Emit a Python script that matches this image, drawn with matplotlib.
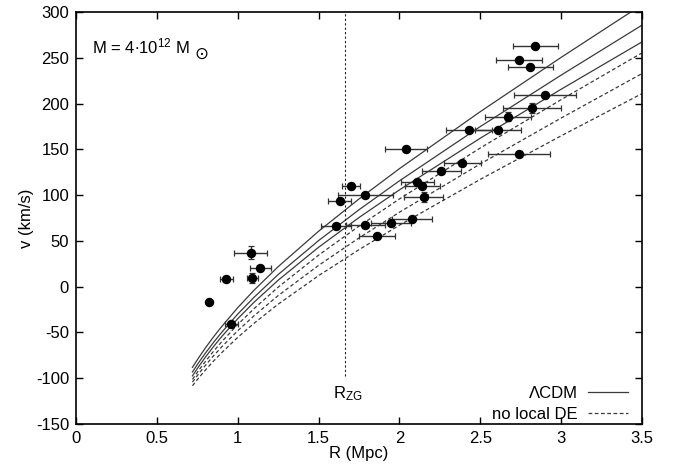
import matplotlib.pyplot as plt
import numpy as np

plt.rcParams['font.family'] = ['Liberation Sans', 'DejaVu Sans']
plt.rcParams['mathtext.fontset'] = 'custom'
plt.rcParams['mathtext.rm'] = 'Liberation Sans'
plt.rcParams['mathtext.it'] = 'Liberation Sans'
plt.rcParams['axes.unicode_minus'] = False

# model curves
r_curve = [0.72, 0.76, 0.8, 0.85, 0.9, 1.0, 1.1, 1.25, 1.5, 1.75, 2.0, 2.5, 3.0, 3.5]
lcdm_1 = [-88.1, -77.2, -66.9, -54.9, -43.7, -22.9, -4.0, 21.9, 60.6, 95.9, 129.0, 191.3, 250.6, 308.1]
lcdm_2 = [-93.1, -82.5, -72.6, -60.9, -50.0, -29.9, -11.7, 13.3, 50.4, 84.1, 115.7, 175.0, 231.2, 285.8]
lcdm_3 = [-97.4, -86.9, -77.0, -65.5, -54.7, -35.0, -17.1, 7.1, 43.1, 75.6, 105.8, 162.3, 215.8, 267.5]
node_1 = [-101.2, -91.1, -81.7, -70.6, -60.3, -41.3, -24.1, -0.5, 34.5, 66.2, 95.9, 151.6, 204.4, 255.5]
node_2 = [-104.2, -94.8, -86.0, -75.6, -65.9, -48.1, -31.9, -9.7, 23.3, 53.3, 81.4, 134.2, 184.3, 232.9]
node_3 = [-108.2, -99.4, -91.1, -81.3, -72.2, -55.4, -40.1, -19.1, 12.1, 40.5, 67.2, 117.3, 164.9, 211.0]

# galaxies
gal_r = [0.82, 0.93, 0.96, 1.08, 1.09, 1.14,
         1.61, 1.63, 1.70, 1.79, 1.79, 1.86, 1.95, 2.04, 2.08, 2.11, 2.14, 2.15,
         2.26, 2.39, 2.43, 2.61, 2.67, 2.74, 2.74, 2.81, 2.82, 2.84, 2.90]
gal_v = [-17, 8, -41, 37, 10, 20,
         66, 94, 110, 100, 67, 55, 70, 151, 74, 114, 110, 98,
         126, 135, 171, 171, 186, 145, 248, 240, 195, 263, 209]
gal_rerr = [0.0, 0.04, 0.04, 0.10, 0.035, 0.065,
            0.093, 0.07, 0.057, 0.17, 0.12, 0.113, 0.124, 0.13, 0.124, 0.103, 0.108, 0.12,
            0.118, 0.112, 0.14, 0.14, 0.142, 0.19, 0.14, 0.14, 0.18, 0.14, 0.19]
# galaxies with visible velocity errors
verr_r = [1.08, 1.09, 2.15, 2.67, 2.82]
verr_v = [37, 10, 98, 186, 195]
verr = [7, 5.5, 5, 4.5, 5.5]

r_zg = 1.664

fig = plt.figure(figsize=(6.75, 4.68), dpi=100)
ax = fig.add_axes([0.1126, 0.094, 0.8385, 0.880])

line_col = '#3a3a3a'
for i, v in enumerate([lcdm_1, lcdm_2, lcdm_3]):
    ax.plot(r_curve, v, color=line_col, lw=0.9, label='ΛCDM' if i == 0 else None)
for i, v in enumerate([node_1, node_2, node_3]):
    ax.plot(r_curve, v, color=line_col, lw=0.9, ls=(0, (3, 2)),
            label='no local DE' if i == 0 else None)

ax.plot([r_zg, r_zg], [-97, 300], color='#222222', lw=0.8, ls=(0, (2, 2)))

ax.errorbar(gal_r, gal_v, xerr=gal_rerr, fmt='none', ecolor='#333333',
            elinewidth=1.0, capsize=2.2, capthick=0.9)
ax.errorbar(verr_r, verr_v, yerr=verr, fmt='none', ecolor='#333333',
            elinewidth=1.0, capsize=2.2, capthick=0.9)
ax.plot(gal_r, gal_v, 'o', color='black', markersize=5.8, zorder=5)

ax.text(0.1, 263, r'M = 4$\bullet$10$^{12}$ M', fontsize=12, va='center')
ax.text(0.73, 255, '⊙', fontsize=12, va='center', family='DejaVu Sans')
ax.text(1.68, -117, r'R$_{\rm ZG}$', fontsize=12, ha='center', va='center')

ax.set_xlim(0, 3.5)
ax.set_ylim(-150, 300)
ax.set_xticks(np.arange(0, 3.51, 0.5))
ax.set_xticklabels(['0', '0.5', '1', '1.5', '2', '2.5', '3', '3.5'])
ax.set_yticks(np.arange(-150, 301, 50))
ax.tick_params(direction='in', top=True, right=True, length=5, width=1,
               labelsize=12, pad=5)
for s in ax.spines.values():
    s.set_linewidth(1.2)

ax.set_xlabel('R (Mpc)', fontsize=12, labelpad=0)
ax.set_ylabel('v (km/s)', fontsize=12, labelpad=1)

ax.legend(loc='lower right', frameon=False, markerfirst=False, fontsize=12,
          handlelength=2.4, handletextpad=0.6, labelspacing=0.35,
          borderaxespad=0.1, bbox_to_anchor=(0.99, -0.015))

fig.savefig('out.png', dpi=100)
